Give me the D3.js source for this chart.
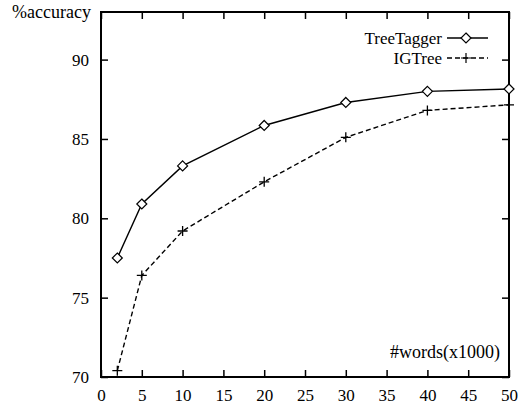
<!DOCTYPE html>
<html>
<head>
<meta charset="utf-8">
<script src="https://cdn.jsdelivr.net/npm/d3@7"></script>
<style>
  body { margin: 0; background: #fff; }
  text { font-family: "Liberation Serif", "Times New Roman", serif; fill: #000; }
</style>
</head>
<body>
<div id="chart"></div>
<script>
// values
const words = [2, 5, 10, 20, 30, 40, 50];
const treeTagger = [77.5, 80.9, 83.3, 85.85, 87.3, 88.0, 88.15];
const igTree = [70.4, 76.4, 79.2, 82.3, 85.1, 86.8, 87.15];
const xTicks = [0, 5, 10, 15, 20, 25, 30, 35, 40, 45, 50];
const yTicks = [70, 75, 80, 85, 90];

const W = 519, H = 407;
const margin = {top: 12, right: 10, bottom: 30, left: 101};
const width = W - margin.left - margin.right,
      height = H - margin.top - margin.bottom;

const svg = d3.select("#chart").append("svg")
    .attr("width", W).attr("height", H);
const g = svg.append("g")
    .attr("transform", `translate(${margin.left},${margin.top})`);

const x = d3.scaleLinear().domain([0, 50]).range([0, width]);
const y = d3.scaleLinear().domain([70, 93]).range([height, 0]);

const tickLen = 7;
const serif = '"Liberation Serif", "Times New Roman", serif';

// axes with ticks inside, mirrored on top and right
g.append("g")
    .attr("transform", `translate(0,${height})`)
    .call(d3.axisBottom(x).tickValues(xTicks).tickSize(-tickLen).tickPadding(12))
    .call(a => a.select(".domain").remove())
    .attr("font-family", serif).attr("font-size", 17);
g.append("g")
    .call(d3.axisTop(x).tickValues(xTicks).tickSize(-tickLen).tickFormat(""))
    .call(a => a.select(".domain").remove());
g.append("g")
    .call(d3.axisLeft(y).tickValues(yTicks).tickSize(-tickLen).tickPadding(12))
    .call(a => a.select(".domain").remove())
    .attr("font-family", serif).attr("font-size", 17);
g.append("g")
    .attr("transform", `translate(${width},0)`)
    .call(d3.axisRight(y).tickValues(yTicks).tickSize(-tickLen).tickFormat(""))
    .call(a => a.select(".domain").remove());
g.selectAll(".tick line").attr("stroke", "#000").attr("stroke-width", 1.5);
g.selectAll(".tick text").attr("fill", "#000").style("font-family", serif);

// frame
g.append("rect")
    .attr("width", width).attr("height", height)
    .attr("fill", "none").attr("stroke", "#000").attr("stroke-width", 2);

const line = d3.line()
    .x((d, i) => x(words[i]))
    .y(d => y(d));

g.append("path").datum(treeTagger)
    .attr("fill", "none").attr("stroke", "#000").attr("stroke-width", 1.4)
    .attr("d", line);
g.append("path").datum(igTree)
    .attr("fill", "none").attr("stroke", "#000").attr("stroke-width", 1.4)
    .attr("stroke-dasharray", "5,3")
    .attr("d", line);

const diamond = "M0,-5L5,0L0,5L-5,0Z";
const plus = "M-5,0H5M0,-5V5";

g.selectAll(".tt").data(treeTagger).join("path")
    .attr("class", "tt")
    .attr("transform", (d, i) => `translate(${x(words[i])},${y(d)})`)
    .attr("d", diamond)
    .attr("fill", "#fff").attr("stroke", "#000").attr("stroke-width", 1.2);
g.selectAll(".ig").data(igTree).join("path")
    .attr("class", "ig")
    .attr("transform", (d, i) => `translate(${x(words[i])},${y(d)})`)
    .attr("d", plus)
    .attr("stroke", "#000").attr("stroke-width", 1.3);

// legend
const legend = [
    {name: "TreeTagger", dash: null, mark: diamond, fill: "#fff"},
    {name: "IGTree", dash: "5,3", mark: plus, fill: "none"}
];
const lg = svg.selectAll(".legend").data(legend).join("g")
    .attr("class", "legend")
    .attr("transform", (d, i) => `translate(0,${38 + i * 20})`);
lg.append("text")
    .attr("x", 442).attr("y", 6)
    .attr("text-anchor", "end").attr("font-size", "17px")
    .style("font-family", serif)
    .text(d => d.name);
lg.append("line")
    .attr("x1", 447).attr("x2", 488)
    .attr("stroke", "#000").attr("stroke-width", 1.4)
    .attr("stroke-dasharray", d => d.dash);
lg.append("path")
    .attr("transform", "translate(466,0)")
    .attr("d", d => d.mark)
    .attr("fill", d => d.fill).attr("stroke", "#000").attr("stroke-width", 1.2);

// axis labels
svg.append("text")
    .attr("x", 12).attr("y", 18)
    .attr("font-size", "18px")
    .style("font-family", serif)
    .text("%accuracy");
svg.append("text")
    .attr("x", 500).attr("y", 358)
    .attr("text-anchor", "end").attr("font-size", "18px")
    .style("font-family", serif)
    .text("#words(x1000)");
</script>
</body>
</html>
